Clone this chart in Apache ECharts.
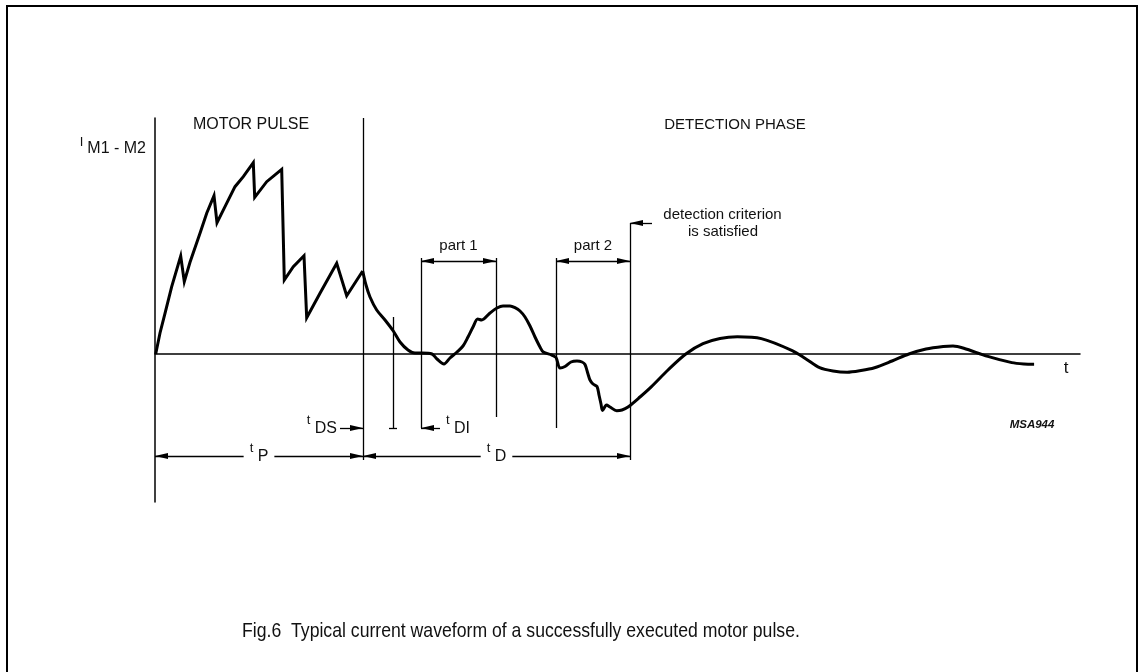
<!DOCTYPE html>
<html><head><meta charset="utf-8">
<script src="https://cdn.jsdelivr.net/npm/echarts@6/dist/echarts.min.js"></script>
<style>html,body{margin:0;padding:0;background:#fff}#c{width:1142px;height:672px}</style>
</head><body><div id="c"></div>
<script>
// ---- data (time in arbitrary units, current in arbitrary units, 0 = baseline) ----
const pulseT = [0.7, 5, 10, 16.7, 25.7, 29.3, 35, 45, 51.7, 59, 62, 70, 80, 88.3, 98.3, 99.7, 111.7, 126.7, 129.3, 138.3, 149, 151.7, 165, 181.7, 191.7, 207.7];
const pulseI = [0, 21, 40.7, 67.3, 98, 72.3, 91.7, 120.7, 140.7, 158.3, 131.3, 147.3, 167.3, 177.3, 191.3, 156.7, 172.3, 184.7, 74, 87.3, 98.3, 36.3, 60.7, 90.7, 58.3, 83];
const detT = [207.7, 211, 215, 221.7, 230, 238.3, 245, 253, 260, 267, 277, 282, 289, 295, 302, 308, 313, 318, 322.7, 326.7, 335, 342, 348, 355, 360, 365, 370, 375, 380, 385, 388.3, 396.7, 401, 405, 410, 416, 422, 427, 430, 433, 435, 438, 442, 444, 446, 447.5, 451.5, 455, 461.7, 467, 473, 485, 496.5, 513, 530.8, 548, 565, 582.3, 606.3, 637.2, 651, 664.6, 678, 692.1, 706, 719.5, 737, 753.9, 771, 788.2, 798, 808.8, 832.8, 856.8, 869, 879.1];
const detI = [83, 69, 57, 44, 34, 23, 12, 4, 1, 1, 0, -5, -10, -4, 2, 8, 17, 27, 35, 34, 41, 46, 48, 48, 46.3, 43, 37, 28, 17, 7, 2, -1, -3.5, -14, -12.5, -8, -7, -8, -10.5, -20, -26, -30, -32.5, -41, -50, -56.5, -51, -53, -56.7, -56, -53, -43, -32.6, -16, 0, 10.3, 15.5, 17.2, 15.4, 3.4, -5, -13.7, -17, -18.2, -16.5, -13.7, -7, 0, 5, 7.5, 8, 5.8, -2.4, -8.6, -10, -10.3];
// time markers
const tPulseEnd = 208, tDSMark = 238, part1Start = 266, part1End = 341, part2Start = 401, tDetect = 475;
const phaseLabels = ['MOTOR PULSE', 'DETECTION PHASE'];
const partLabels = ['part 1', 'part 2'];
const criterionLabels = ['detection criterion', 'is satisfied'];
const caption = 'Fig.6  Typical current waveform of a successfully executed motor pulse.';

const FONT = "'Liberation Sans', Arial, Helvetica, sans-serif";
const INK = '#111';
const pulseData = pulseT.map((t, i) => [t, pulseI[i]]);
const detData = detT.map((t, i) => [t, detI[i]]);

const AR = {symbol: 'triangle', symbolSize: [6, 13], symbolOffset: [0, 6.5]};
const NO = {symbol: 'none'};
function seg(x1, y1, x2, y2, s1, s2, label) {
  const a = Object.assign({coord: [x1, y1]}, s1 ? AR : NO);
  const b = Object.assign({coord: [x2, y2]}, s2 ? AR : NO);
  if (label) a.label = label;
  return [a, b];
}
const subRich = {
  t: {fontFamily: FONT, fontSize: 13, lineHeight: 14, padding: [0, 0, 10, 0], verticalAlign: 'bottom', color: INK},
  s: {fontFamily: FONT, fontSize: 16, lineHeight: 18, verticalAlign: 'bottom', color: INK}
};
function dimLabel(sub) {
  return {show: true, position: 'middle', distance: 0, verticalAlign: 'middle',
    formatter: '{t|t}{s| ' + sub + '}', rich: subRich, backgroundColor: '#fff', padding: [0, 6]};
}
const lines = [
  seg(tPulseEnd, 236, tPulseEnd, -106),
  seg(tDSMark, 37, tDSMark, -74),
  seg(tDSMark - 4, -74, tDSMark + 4, -74),
  seg(part1Start, 96, part1Start, -74),
  seg(part1End, 96, part1End, -63),
  seg(part2Start, 96, part2Start, -74),
  seg(tDetect, 131, tDetect, -106),
  seg(tDetect, 131, tDetect + 22, 131, true, false),
  seg(part1Start, 93, part1End, 93, true, true),
  seg(part2Start, 93, tDetect, 93, true, true),
  seg(tPulseEnd - 23, -74, tPulseEnd, -74, false, true),
  seg(part1Start + 19, -74, part1Start, -74, false, true),
  seg(0, -102, tPulseEnd, -102, true, true, dimLabel('P')),
  seg(tPulseEnd, -102, tDetect, -102, true, true, dimLabel('D'))
];
function txt(x, y, text, extra) {
  return {coord: [x, y], symbol: 'circle', symbolSize: 0,
    label: Object.assign({show: true, position: 'inside', formatter: text, color: INK,
      fontFamily: FONT, fontSize: 15, align: 'center', verticalAlign: 'middle'}, extra || {})};
}
const texts = [
  txt(96, 229, phaseLabels[0], {fontSize: 16}),
  txt(580, 229, phaseLabels[1], {fontSize: 15}),
  txt((part1Start + part1End) / 2, 108, partLabels[0]),
  txt((part2Start + tDetect) / 2, 108, partLabels[1]),
  txt(567.5, 139, criterionLabels[0]),
  txt(568, 122, criterionLabels[1]),
  txt(877, -71, 'MSA944', {fontSize: 11.5, fontStyle: 'italic', fontWeight: 'bold'}),
  txt(182, -74, '{t|t}{s| DS}', {align: 'right', rich: subRich}),
  txt(291, -74, '{t|t}{s| DI}', {align: 'left', rich: subRich})
];

const chart = echarts.init(document.getElementById('c'), null, {renderer: 'canvas'});
chart.setOption({
  animation: false,
  backgroundColor: '#fff',
  graphic: [
    {type: 'rect', z: -1, shape: {x: 7, y: 6, width: 1130, height: 680},
      style: {fill: 'none', stroke: '#000', lineWidth: 2}},
    {type: 'text', x: 242, y: 631, scaleX: 0.84,
      style: {text: caption, font: "21px " + FONT, fill: INK, textAlign: 'left', textVerticalAlign: 'middle'}}
  ],
  grid: {left: 155, right: 62, top: 118, bottom: 170, containLabel: false, outerBoundsMode: 'none'},
  xAxis: {type: 'value', min: 0, max: 925,
    name: 't', nameLocation: 'end', nameGap: -14,
    nameTextStyle: {fontFamily: FONT, fontSize: 17, color: INK, align: 'center', verticalAlign: 'top', padding: [6, 0, 0, 0]},
    axisLine: {show: true, onZero: true, lineStyle: {color: '#000', width: 1.5}},
    axisTick: {show: false}, axisLabel: {show: false}, splitLine: {show: false}},
  yAxis: {type: 'value', min: -148, max: 236,
    name: '{i|I}{m|M1 - M2}', nameLocation: 'end', nameGap: -30,
    nameTextStyle: {align: 'right', verticalAlign: 'middle', padding: [0, 9, 0, 0],
      rich: {i: {fontFamily: FONT, fontSize: 13, lineHeight: 14, padding: [0, 4, 8, 0], verticalAlign: 'bottom', color: INK},
             m: {fontFamily: FONT, fontSize: 16, lineHeight: 18, verticalAlign: 'bottom', color: INK}}},
    axisLine: {show: true, lineStyle: {color: '#000', width: 1.5}},
    axisTick: {show: false}, axisLabel: {show: false}, splitLine: {show: false}},
  series: [
    {type: 'line', name: 'pulse', data: pulseData, smooth: false, symbol: 'none',
      lineStyle: {color: '#000', width: 3, join: 'miter'}, silent: true},
    {type: 'line', name: 'response', data: detData, smooth: 0.3, symbol: 'none',
      lineStyle: {color: '#000', width: 3}, silent: true},
    {type: 'line', name: 'annotations', data: [], silent: true,
      markLine: {silent: true, symbol: 'none', symbolSize: 13, animation: false,
        label: {show: false}, lineStyle: {color: '#000', width: 1.3, type: 'solid'},
        itemStyle: {color: '#000'}, emphasis: {disabled: true}, data: lines},
      markPoint: {silent: true, animation: false, itemStyle: {color: 'transparent'}, data: texts}}
  ]
});
</script></body></html>
